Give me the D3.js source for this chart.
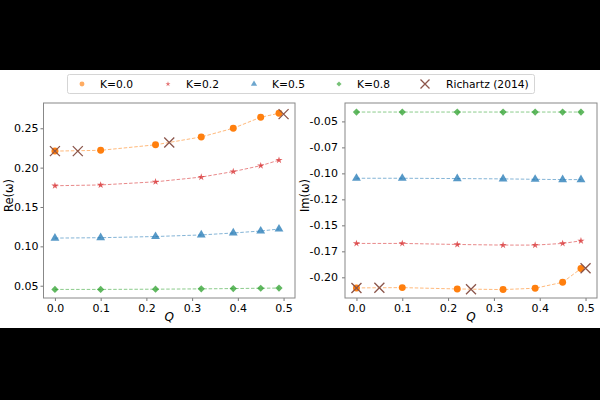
<!DOCTYPE html>
<html><head><meta charset="utf-8">
<script src="https://cdn.jsdelivr.net/npm/d3@7"></script>
<style>html,body{margin:0;padding:0;background:#000;}svg{display:block;}</style>
</head><body><svg id="c" width="600" height="400"></svg>
<script>
const Q = [0.0, 0.1, 0.22, 0.32, 0.39, 0.45, 0.49];
const reK00 = [0.221, 0.222, 0.229, 0.239, 0.250, 0.264, 0.269];
const reK02 = [0.177, 0.178, 0.182, 0.188, 0.195, 0.2025, 0.2095];
const reK05 = [0.1105, 0.111, 0.1125, 0.1145, 0.117, 0.1195, 0.122];
const reK08 = [0.0453, 0.0453, 0.0456, 0.046, 0.0464, 0.0468, 0.047];
const imK00 = [-0.2102, -0.2099, -0.2112, -0.2118, -0.2105, -0.2048, -0.1916];
const imK02 = [-0.1674, -0.1674, -0.1684, -0.169, -0.169, -0.1674, -0.1649];
const imK05 = [-0.1047, -0.1047, -0.105, -0.1053, -0.1057, -0.106, -0.106];
const imK08 = [-0.041, -0.041, -0.041, -0.041, -0.041, -0.041, -0.041];
const richQ = [0.0, 0.05, 0.25, 0.5];
const richRe = [0.221, 0.221, 0.232, 0.268];
const richIm = [-0.2102, -0.2100, -0.2115, -0.1913];
const xTicks = [0.0, 0.1, 0.2, 0.3, 0.4, 0.5];
const reTicks = [0.05, 0.10, 0.15, 0.20, 0.25];
const imTicks = [-0.05, -0.075, -0.10, -0.125, -0.15, -0.175, -0.20];
const imTickLabels = ["-0.05", "-0.07", "-0.10", "-0.12", "-0.15", "-0.17", "-0.20"];
const legendLabels = ["K=0.0", "K=0.2", "K=0.5", "K=0.8", "Richartz (2014)"];

const colors = ["#ff7f0e", "#d62728", "#1f77b4", "#2ca02c"];
const symbols = [d3.symbolCircle, d3.symbolStar, d3.symbolTriangle, d3.symbolSquare];
const symSizes = [38, 16, 34, 26];
const symRot = [0, 0, 0, 45];
const richColor = "#8c564b";
const font = "DejaVu Sans, sans-serif";

const svg = d3.select("#c");
svg.append("rect").attr("x", 0).attr("y", 70).attr("width", 600).attr("height", 258).attr("fill", "#fff");

function xSym(g, x, y, r) {
  g.append("path").attr("d", `M${x-r},${y-r}L${x+r},${y+r}M${x-r},${y+r}L${x+r},${y-r}`)
    .attr("stroke", richColor).attr("stroke-width", 1.3).attr("fill", "none");
}

function panel(opts) {
  const {left, right, top, bottom, yDomain, yTicks, yFmt, series, rich, ylabel} = opts;
  const x = d3.scaleLinear().domain([-0.025, 0.525]).range([left, right]);
  const y = d3.scaleLinear().domain(yDomain).range([bottom, top]);
  const g = svg.append("g");
  const xa = g.append("g").attr("transform", `translate(0,${bottom})`)
    .call(d3.axisBottom(x).tickValues(xTicks).tickFormat(d3.format(".1f")).tickSize(3).tickPadding(3));
  const ya = g.append("g").attr("transform", `translate(${left},0)`)
    .call(d3.axisLeft(y).tickValues(yTicks).tickFormat(yFmt).tickSize(3).tickPadding(opts.pad));
  [xa, ya].forEach(a => {
    a.select(".domain").remove();
    a.selectAll("line").attr("stroke", "#555").attr("stroke-width", 0.8);
    a.selectAll("text").attr("font-family", font).attr("font-size", 11).attr("fill", "#000");
  });
  g.append("rect").attr("x", left).attr("y", top).attr("width", right-left).attr("height", bottom-top)
    .attr("fill", "none").attr("stroke", "#888").attr("stroke-width", 1);
  series.forEach((vals, i) => {
    const line = d3.line().x((d, j) => x(Q[j])).y(d => y(d));
    g.append("path").datum(vals).attr("d", line).attr("fill", "none")
      .attr("stroke", colors[i]).attr("stroke-opacity", 0.55).attr("stroke-width", 1)
      .attr("stroke-dasharray", "3.5,1.8");
    g.selectAll(null).data(vals).enter().append("path")
      .attr("d", d3.symbol().type(symbols[i]).size(symSizes[i]))
      .attr("transform", (d, j) => `translate(${x(Q[j])},${y(d)}) rotate(${symRot[i]})`)
      .attr("fill", colors[i]).attr("fill-opacity", i === 0 ? 1 : 0.75);
  });
  rich.forEach((v, j) => xSym(g, x(richQ[j]), y(v), 5));
  g.append("text").attr("x", (left+right)/2).attr("y", 321).attr("text-anchor", "middle")
    .attr("font-family", font).attr("font-size", 12).attr("font-style", "italic").text("Q");
  g.append("text").attr("transform", `translate(${opts.ylx},${(top+bottom)/2 - 5}) rotate(-90)`)
    .attr("text-anchor", "middle").attr("font-family", font).attr("font-size", 11.5).text(ylabel);
}

panel({left: 43.5, right: 295, top: 103, bottom: 298, yDomain: [0.0344, 0.2821],
  yTicks: reTicks, yFmt: d3.format(".2f"), series: [reK00, reK02, reK05, reK08], rich: richRe,
  ylabel: "Re(\u03c9)", ylx: 13, pad: 2});
panel({left: 345, right: 597, top: 103, bottom: 298, yDomain: [-0.2199, -0.0323],
  yTicks: imTicks, yFmt: (d, i) => imTickLabels[i], series: [imK00, imK02, imK05, imK08], rich: richIm,
  ylabel: "Im(\u03c9)", ylx: 309, pad: 4});

const lg = svg.append("g");
lg.append("rect").attr("x", 67.5).attr("y", 74.5).attr("width", 467).attr("height", 19).attr("rx", 2)
  .attr("fill", "#fff").attr("stroke", "#d5d5d5").attr("stroke-width", 1);
const lx = [82, 168, 254, 339, 425];
legendLabels.forEach((t, i) => {
  if (i < 4) {
    lg.append("path").attr("d", d3.symbol().type(symbols[i]).size(symSizes[i] * 0.5))
      .attr("transform", `translate(${lx[i]},84) rotate(${symRot[i]})`).attr("fill", colors[i]).attr("fill-opacity", 0.65);
  } else {
    xSym(lg, lx[i], 84, 4.5);
  }
  lg.append("text").attr("x", lx[i] + (i < 4 ? 18 : 21)).attr("y", 88).attr("font-family", font)
    .attr("font-size", 10.7).attr("fill", "#000").text(t);
});
</script></body></html>
